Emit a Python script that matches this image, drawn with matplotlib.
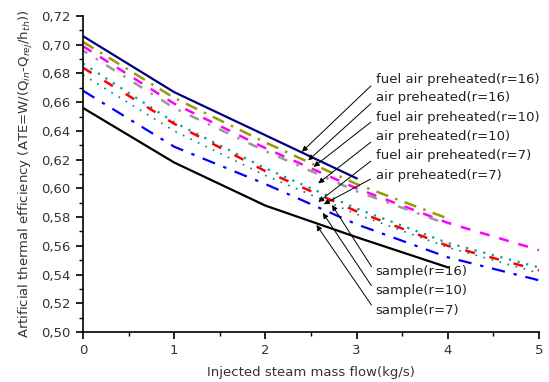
import matplotlib
matplotlib.use("Agg")
import matplotlib.pyplot as plt
from matplotlib.ticker import MultipleLocator, FuncFormatter

plt.rcParams['font.family'] = ['DejaVu Sans']

# Data
x_full = [0, 1, 2, 3, 4, 5]
x_to3 = [0, 1, 2, 3]
x_to4 = [0, 1, 2, 3, 4]

navy_y = [0.706, 0.667, 0.637, 0.607]                     # to x=3
olive_y = [0.702, 0.663, 0.632, 0.603, 0.579]             # to x=4
magenta_y = [0.699, 0.659, 0.628, 0.600, 0.576, 0.557]
gray_y = [0.696, 0.656, 0.626, 0.598, 0.575]              # to x=4
teal1_y = [0.687, 0.646, 0.614, 0.586, 0.562, 0.545]
red_y = [0.684, 0.645, 0.612, 0.584, 0.560, 0.543]
teal2_y = [0.679, 0.640, 0.609, 0.582, 0.559, 0.541]
blue_y = [0.668, 0.629, 0.603, 0.575, 0.552, 0.536]
black_y = [0.656, 0.618, 0.588, 0.566, 0.545]             # to x=4

labels = ["fuel air preheated(r=16)", "air preheated(r=16)",
          "fuel air preheated(r=10)", "air preheated(r=10)",
          "fuel air preheated(r=7)", "air preheated(r=7)",
          "sample(r=16)", "sample(r=10)", "sample(r=7)"]
# (text position, arrow tip) in data coordinates
text_pos = [(3.21, 0.6755), (3.21, 0.663), (3.21, 0.6497), (3.21, 0.6358),
            (3.21, 0.6226), (3.21, 0.6093), (3.21, 0.5418), (3.21, 0.5286), (3.21, 0.5153)]
tips = [(2.40, 0.6255), (2.47, 0.6195), (2.53, 0.615), (2.58, 0.6035),
        (2.58, 0.5905), (2.64, 0.589), (2.73, 0.5884), (2.63, 0.5829), (2.56, 0.5745)]

fig = plt.figure(figsize=(5.49, 3.82), dpi=100)
ax = fig.add_axes([0.1512, 0.1309, 0.8306, 0.8271])

ax.plot(x_to3, navy_y, color='#000080', lw=1.6, ls='-')
ax.plot(x_to4, olive_y, color='#999900', lw=1.8, ls=(0, (5, 3, 1, 3)))
ax.plot(x_full, magenta_y, color='#ff00ff', lw=1.8, ls=(0, (4, 4)))
ax.plot(x_to4, gray_y, color='#999999', lw=1.8, ls=(2, (4, 4, 1, 4)))
ax.plot(x_full, teal1_y, color='#00a0a0', lw=1.6, ls=(0, (1, 3)))
ax.plot(x_full, red_y, color='#ff0000', lw=1.8, ls=(0, (4, 6)))
ax.plot(x_full, teal2_y, color='#008080', lw=1.2, ls=(0, (1, 4)))
ax.plot(x_full, blue_y, color='#0000ff', lw=1.6, ls=(0, (6, 4, 1.5, 4)))
ax.plot(x_to4, black_y, color='#000000', lw=1.6, ls='-')

for lab, tp, tip in zip(labels, text_pos, tips):
    ax.annotate(lab, xy=tip, xytext=tp, fontsize=9.5, color='#222222',
                ha='left', va='center',
                arrowprops=dict(arrowstyle='-|>', color='black', lw=0.7,
                                shrinkA=2, shrinkB=0, mutation_scale=8,
                                relpos=(0, 0.4)))

ax.set_xlim(0, 5)
ax.set_ylim(0.50, 0.72)
ax.xaxis.set_major_locator(MultipleLocator(1))
ax.xaxis.set_minor_locator(MultipleLocator(0.5))
ax.yaxis.set_major_locator(MultipleLocator(0.02))
ax.yaxis.set_minor_locator(MultipleLocator(0.01))
ax.yaxis.set_major_formatter(FuncFormatter(lambda v, p: f"{v:.2f}".replace('.', ',')))
for s in ['top', 'right']:
    ax.spines[s].set_visible(False)
for s in ['left', 'bottom']:
    ax.spines[s].set_linewidth(1.2)
ax.tick_params(which='major', direction='out', length=5, width=1.2, labelsize=9.5,
               colors='black', labelcolor='#333333', pad=4)
ax.tick_params(which='minor', direction='out', length=3, width=1.0)

ax.set_xlabel("Injected steam mass flow(kg/s)", fontsize=9.5, color='#333333', labelpad=6)
ax.set_ylabel(r"Artificial thermal efficiency (ATE=W/(Q$_{in}$-Q$_{rej}$/h$_{th}$))",
              fontsize=9.5, color='#333333', labelpad=4)

fig.savefig("out.png", dpi=100)
